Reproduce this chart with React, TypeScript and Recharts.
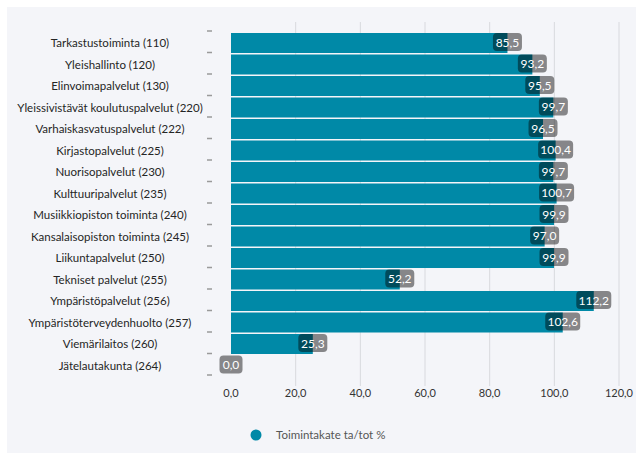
import React from 'react'
import { BarChart, Bar, XAxis, YAxis, CartesianGrid, Legend, LabelList } from 'recharts'

const categories = [
  'Tarkastustoiminta (110)',
  'Yleishallinto (120)',
  'Elinvoimapalvelut (130)',
  'Yleissivistävät koulutuspalvelut (220)',
  'Varhaiskasvatuspalvelut (222)',
  'Kirjastopalvelut (225)',
  'Nuorisopalvelut (230)',
  'Kulttuuripalvelut (235)',
  'Musiikkiopiston toiminta (240)',
  'Kansalaisopiston toiminta (245)',
  'Liikuntapalvelut (250)',
  'Tekniset palvelut (255)',
  'Ympäristöpalvelut (256)',
  'Ympäristöterveydenhuolto (257)',
  'Viemärilaitos (260)',
  'Jätelautakunta (264)',
]

const toimintakate = [85.5, 93.2, 95.5, 99.7, 96.5, 100.4, 99.7, 100.7, 99.9, 97.0, 99.9, 52.2, 112.2, 102.6, 25.3, 0.0]

const xTicks = [0, 20, 40, 60, 80, 100, 120]

const seriesName = 'Toimintakate ta/tot %'

const data = categories.map((name, i) => ({ name, value: toimintakate[i] }))

const TEAL = '#0089a7'
const FONT = 'Lato, "Open Sans", sans-serif'

const fi = (v: number) => v.toFixed(1).replace('.', ',')

function CategoryTick(props: any) {
  const { y, payload, index } = props
  const half = payload?.offset || 10.75
  return (
    <g>
      <text x={103} y={y} textAnchor="middle" dominantBaseline="central" fontSize={11.5} fill="#252525" fontFamily={FONT}>
        {payload.value}
      </text>
      <line x1={200} x2={205} y1={y - half - 1} y2={y - half - 1} stroke="#9a9a9a" strokeWidth={1.5} />
      {index === categories.length - 1 && (
        <line x1={200} x2={205} y1={y + half - 1} y2={y + half - 1} stroke="#9a9a9a" strokeWidth={1.5} />
      )}
    </g>
  )
}

function ValueLabel(props: any) {
  const { x, y, width, height, value } = props
  const txt = fi(Number(value))
  const w = txt.length * 6 + 5
  const cx = x + width
  const cy = y + height / 2 - 1
  return (
    <g>
      <rect x={cx - w / 2} y={cy - 9} width={w} height={18} rx={4} fill="#000" fillOpacity={0.45} />
      <text x={cx} y={cy} textAnchor="middle" dominantBaseline="central" fontSize={12} fill="#fff" fontFamily={FONT}>
        {txt}
      </text>
    </g>
  )
}

function LegendContent() {
  return (
    <div style={{ display: 'flex', alignItems: 'center', fontFamily: FONT, fontSize: 11.5, color: '#555' }}>
      <svg width={12} height={12} style={{ marginRight: 14 }}>
        <circle cx={6} cy={6} r={5.5} fill={TEAL} />
      </svg>
      <span>{seriesName}</span>
    </div>
  )
}

// vertical grid lines at every tick except 0
const gridX = ({ xAxis, offset }: any) =>
  xTicks.slice(1).map((t) =>
    xAxis && typeof xAxis.scale === 'function'
      ? xAxis.scale(t)
      : offset.left + (t / xTicks[xTicks.length - 1]) * offset.width
  )

export default function App() {
  return (
    <div style={{ position: 'absolute', left: 0, top: 0, width: 639, height: 456, background: '#fff' }}>
      <div style={{ position: 'absolute', left: 7, top: 7, width: 629, height: 446, background: '#f4f5f9' }}>
        <BarChart
          width={629}
          height={446}
          data={data}
          layout="vertical"
          margin={{ top: 15, right: 17, bottom: 42, left: 0 }}
          barCategoryGap={1}
        >
          <CartesianGrid horizontal={false} stroke="#d8d9de" verticalCoordinatesGenerator={gridX} />
          <XAxis
            type="number"
            domain={[0, 120]}
            ticks={xTicks}
            tickFormatter={fi}
            axisLine={false}
            tickLine={false}
            tickSize={0}
            tickMargin={3}
            height={25}
            tick={{ fontSize: 11, fill: '#333', fontFamily: FONT }}
          />
          <YAxis
            type="category"
            dataKey="name"
            width={224}
            axisLine={false}
            tickLine={false}
            interval={0}
            padding={{ top: 10, bottom: 10 }}
            tick={<CategoryTick />}
          />
          <Legend
            layout="horizontal"
            verticalAlign="middle"
            align="center"
            content={<LegendContent />}
            wrapperStyle={{ left: 243, top: 421, width: 200 }}
          />
          <Bar dataKey="value" name={seriesName} fill={TEAL} minPointSize={0.01} isAnimationActive={false}>
            <LabelList dataKey="value" content={<ValueLabel />} />
          </Bar>
        </BarChart>
      </div>
    </div>
  )
}
